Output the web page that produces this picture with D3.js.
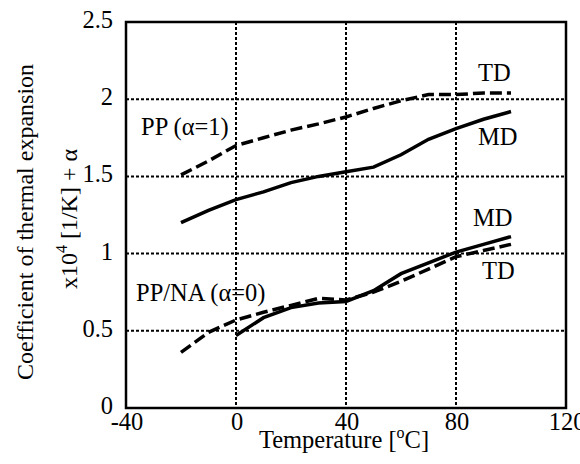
<!DOCTYPE html>
<html><head><meta charset="utf-8">
<script src="https://cdn.jsdelivr.net/npm/d3@7"></script>
<style>
html,body{margin:0;padding:0;background:#fff;}
text{font-family:"Liberation Serif","Times New Roman",serif;fill:#000;}
</style></head>
<body>
<svg id="chart" width="580" height="464"></svg>
<script>
const temps = [-20,-10,0,10,20,30,40,50,60,70,80,90,100];
const ppMD  = [1.20,1.28,1.35,1.40,1.46,1.50,1.53,1.56,1.64,1.74,1.81,1.87,1.92];
const ppTD  = [1.51,1.60,1.70,1.75,1.80,1.84,1.885,1.94,1.99,2.03,2.03,2.04,2.04];
const naMD  = [null,null,0.47,0.585,0.65,0.68,0.69,0.76,0.87,0.94,1.01,1.06,1.11];
const naTD  = [0.36,0.49,0.57,0.62,0.665,0.71,0.70,0.75,0.82,0.90,0.98,1.02,1.06];
const xTicks = [-40,0,40,80,120];
const yTicks = [0,0.5,1,1.5,2,2.5];
const yTickLabels = ["0","0.5","1","1.5","2","2.5"];

const svg = d3.select("#chart");
const L=126, R=566, T=22, B=408;
const x = d3.scaleLinear().domain([-40,120]).range([L,R]);
const y = d3.scaleLinear().domain([0,2.5]).range([B,T]);
const FS = 24.5;

// gridlines
const g = svg.append("g");
g.selectAll(".vg").data(xTicks.slice(1,-1)).enter().append("line")
  .attr("x1",d=>x(d)).attr("x2",d=>x(d)).attr("y1",T).attr("y2",B)
  .attr("stroke","#000").attr("stroke-width",2).attr("stroke-dasharray","3,2");
g.selectAll(".hg").data(yTicks.slice(1,-1)).enter().append("line")
  .attr("x1",L).attr("x2",R).attr("y1",d=>y(d)).attr("y2",d=>y(d))
  .attr("stroke","#000").attr("stroke-width",2).attr("stroke-dasharray","3,2");

// frame
svg.append("rect").attr("x",L).attr("y",T).attr("width",R-L).attr("height",B-T)
  .attr("fill","none").attr("stroke","#000").attr("stroke-width",2.5);

// tick labels
svg.selectAll(".yt").data(yTicks).enter().append("text")
  .attr("x",113).attr("y",d=>y(d)+6).attr("text-anchor","end")
  .attr("font-size",FS).text((d,i)=>yTickLabels[i]);
svg.selectAll(".xt").data(xTicks).enter().append("text")
  .attr("x",d=>x(d)+1).attr("y",430).attr("text-anchor","middle")
  .attr("font-size",FS).text(d=>d);

// axis titles
const xt = svg.append("text").attr("x",344).attr("y",448).attr("text-anchor","middle").attr("font-size",FS);
xt.append("tspan").text("Temperature [");
xt.append("tspan").attr("font-size",16).attr("dy",-10).text("o");
xt.append("tspan").attr("dy",10).text("C]");

svg.append("text").attr("transform","translate(33,222) rotate(-90)")
  .attr("text-anchor","middle").attr("font-size",24).text("Coefficient of thermal expansion");
const yt2 = svg.append("text").attr("transform","translate(77,219) rotate(-90)")
  .attr("text-anchor","middle").attr("font-size",24);
yt2.append("tspan").text("x10");
yt2.append("tspan").attr("font-size",16).attr("dy",-10).text("4");
yt2.append("tspan").attr("dy",10).text(" [1/K] + α");

// lines
const line = d3.line().defined(d=>d[1]!=null).x(d=>x(d[0])).y(d=>y(d[1]));
const series = [
  {v:ppMD, dash:null},
  {v:ppTD, dash:"12,5"},
  {v:naMD, dash:null},
  {v:naTD, dash:"12,5"}
];
series.forEach(s=>{
  svg.append("path").datum(temps.map((t,i)=>[t,s.v[i]]))
    .attr("d",line).attr("fill","none").attr("stroke","#000")
    .attr("stroke-width",3.5).attr("stroke-dasharray",s.dash);
});

// annotations
const ann = [
  {t:"TD", x:478, y:81},
  {t:"MD", x:478, y:145},
  {t:"PP (α=1)", x:141, y:135},
  {t:"PP/NA (α=0)", x:136, y:301},
  {t:"MD", x:473, y:226},
  {t:"TD", x:482, y:279}
];
svg.selectAll(".ann").data(ann).enter().append("text")
  .attr("x",d=>d.x).attr("y",d=>d.y).attr("font-size",FS).text(d=>d.t);
</script>
</body></html>
